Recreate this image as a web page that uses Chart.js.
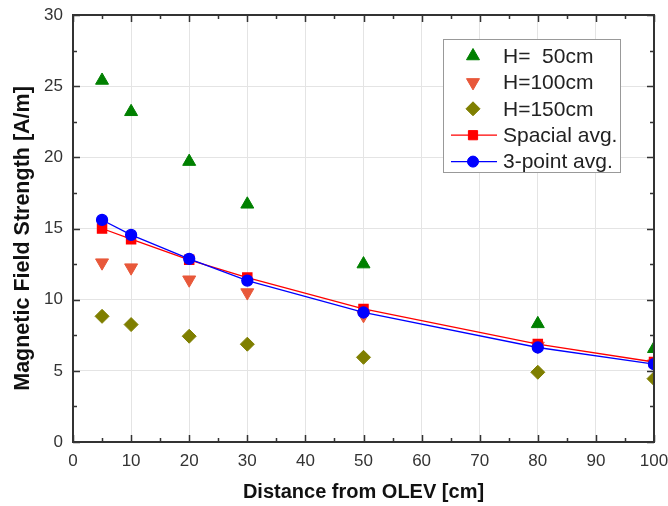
<!DOCTYPE html>
<html>
<head>
<meta charset="utf-8">
<script src="https://cdn.jsdelivr.net/npm/chart.js@4/dist/chart.umd.min.js"></script>
<style>
    html, body { margin: 0; padding: 0; background: #fff; }
    #wrap { width: 668px; height: 506px; position: relative; }
</style>
</head>
<body>
<div id="wrap"><canvas id="chart"></canvas></div>
<script>
    // distances from OLEV [cm]
    const distances = [5, 10, 20, 30, 50, 80, 100];

    const h50 = [25.4, 23.2, 19.7, 16.7, 12.5, 8.3, 6.55];
    const h100 = [12.6, 12.25, 11.4, 10.5, 8.9, 6.75, 5.5];
    const h150 = [8.83, 8.25, 7.43, 6.87, 5.95, 4.9, 4.45];
    const spacialAvg = [15.0, 14.25, 12.8, 11.55, 9.35, 6.88, 5.62];
    const threePointAvg = [15.6, 14.55, 12.87, 11.34, 9.1, 6.64, 5.47];

    const xTicks = [0, 10, 20, 30, 40, 50, 60, 70, 80, 90, 100];
    const yTicks = [0, 5, 10, 15, 20, 25, 30];

    const legendLabels = ['H=  50cm', 'H=100cm', 'H=150cm', 'Spacial avg.', '3-point avg.'];
    const yTitle = 'Magnetic Field Strength [A/m]';

    const toPoints = ys => distances.map((x, i) => ({ x: x, y: ys[i] }));

    const datasets = [
        { label: legendLabels[0], data: toPoints(h50), showLine: false, pointStyle: 'triangle',
          pointRadius: 7.5, backgroundColor: '#008000', borderColor: '#008000', borderWidth: 1, order: 2 },
        { label: legendLabels[1], data: toPoints(h100), showLine: false, pointStyle: 'triangle', rotation: 180,
          pointRadius: 7.5, backgroundColor: '#e8583a', borderColor: '#e8583a', borderWidth: 1, order: 3 },
        { label: legendLabels[2], data: toPoints(h150), showLine: false, pointStyle: 'rectRot',
          pointRadius: 7, backgroundColor: '#7f7f00', borderColor: '#7f7f00', borderWidth: 1, order: 4 },
        { label: legendLabels[3], data: toPoints(spacialAvg), showLine: true, pointStyle: 'rect',
          pointRadius: 6.5, backgroundColor: '#ff0000', borderColor: '#ff0000', borderWidth: 1.3, order: 1 },
        { label: legendLabels[4], data: toPoints(threePointAvg), showLine: true, pointStyle: 'circle',
          pointRadius: 5.5, backgroundColor: '#0000ff', borderColor: '#0000ff', borderWidth: 1.3, order: 0 }
    ];

    // frame, inner ticks on all four sides, y title and legend box
    const framePlugin = {
        id: 'frame',
        afterDraw(chart) {
            const ctx = chart.ctx;
            const a = chart.chartArea;
            const xs = chart.scales.x, ys = chart.scales.y;
            ctx.save();
            ctx.strokeStyle = '#333';
            ctx.lineWidth = 2;
            ctx.strokeRect(a.left, a.top, a.right - a.left, a.bottom - a.top);
            ctx.lineWidth = 1.5;
            ctx.beginPath();
            for (let v = 0; v <= 100; v += 5) {
                const px = Math.round(xs.getPixelForValue(v)) + 0.5;
                const len = v % 10 === 0 ? 7 : 4;
                ctx.moveTo(px, a.bottom); ctx.lineTo(px, a.bottom - len);
                ctx.moveTo(px, a.top); ctx.lineTo(px, a.top + len);
            }
            for (let v = 0; v <= 30; v += 2.5) {
                const py = Math.round(ys.getPixelForValue(v)) + 0.5;
                const len = v % 5 === 0 ? 7 : 4;
                ctx.moveTo(a.left, py); ctx.lineTo(a.left + len, py);
                ctx.moveTo(a.right, py); ctx.lineTo(a.right - len, py);
            }
            ctx.stroke();

            // y axis title, sitting a little below the axis middle as in the original
            ctx.save();
            ctx.translate(23, ys.getPixelForValue(14.3));
            ctx.rotate(-Math.PI / 2);
            ctx.font = 'bold 21.5px "Liberation Sans", Arial, sans-serif';
            ctx.fillStyle = '#111';
            ctx.textAlign = 'center';
            ctx.textBaseline = 'middle';
            ctx.fillText(yTitle, 0, 0);
            ctx.restore();

            // legend
            const bx = 443.5, by = 39.5, bw = 177, bh = 133;
            ctx.fillStyle = '#fff';
            ctx.fillRect(bx, by, bw, bh);
            ctx.strokeStyle = '#999';
            ctx.lineWidth = 1;
            ctx.strokeRect(bx, by, bw, bh);
            const symX = 473, textX = 503;
            ctx.font = '21px "Liberation Sans", Arial, sans-serif';
            ctx.textBaseline = 'middle';
            chart.data.datasets.forEach((ds, i) => {
                const cy = 56 + i * 26.4;
                if (ds.showLine) {
                    ctx.strokeStyle = ds.borderColor;
                    ctx.lineWidth = 1.3;
                    ctx.beginPath();
                    ctx.moveTo(451, cy); ctx.lineTo(497, cy);
                    ctx.stroke();
                }
                ctx.fillStyle = ds.backgroundColor;
                ctx.strokeStyle = ds.borderColor;
                ctx.lineWidth = 1;
                Chart.helpers.drawPoint(ctx, {
                    pointStyle: ds.pointStyle, rotation: ds.rotation || 0,
                    radius: ds.pointRadius, borderWidth: 1
                }, symX, cy);
                ctx.fillStyle = '#222';
                ctx.fillText(ds.label, textX, cy + 1);
            });
            ctx.restore();
        }
    };

    // stop the tick labels from pushing the plot area inwards
    const noOverflow = s => { s.paddingTop = 0; s.paddingBottom = 0; s.paddingLeft = 0; s.paddingRight = 0; };

    new Chart(document.getElementById('chart'), {
        type: 'scatter',
        data: { datasets: datasets },
        options: {
            responsive: true,
            maintainAspectRatio: false,
            animation: false,
            layout: { padding: { top: 15, right: 14, left: 0, bottom: 0 } },
            plugins: { legend: { display: false }, tooltip: { enabled: false } },
            scales: {
                x: {
                    type: 'linear', min: 0, max: 100,
                    afterFit: s => { s.height = 64; noOverflow(s); },
                    afterBuildTicks: s => { s.ticks = xTicks.map(v => ({ value: v })); },
                    grid: { color: '#e4e4e4', drawTicks: false },
                    border: { display: false },
                    ticks: { padding: 9, color: '#333', font: { family: '"Liberation Sans", Arial', size: 17 } },
                    title: { display: true, text: 'Distance from OLEV [cm]', color: '#111',
                             font: { family: '"Liberation Sans", Arial', size: 20, weight: 'bold', lineHeight: 1 },
                             padding: { top: 0, bottom: 4 } }
                },
                y: {
                    type: 'linear', min: 0, max: 30,
                    afterFit: s => { s.width = 73; noOverflow(s); },
                    afterBuildTicks: s => { s.ticks = yTicks.map(v => ({ value: v })); },
                    grid: { color: '#e4e4e4', drawTicks: false },
                    border: { display: false },
                    ticks: { padding: 10, color: '#333', font: { family: '"Liberation Sans", Arial', size: 17 } }
                }
            }
        },
        plugins: [framePlugin]
    });
</script>
</body>
</html>
